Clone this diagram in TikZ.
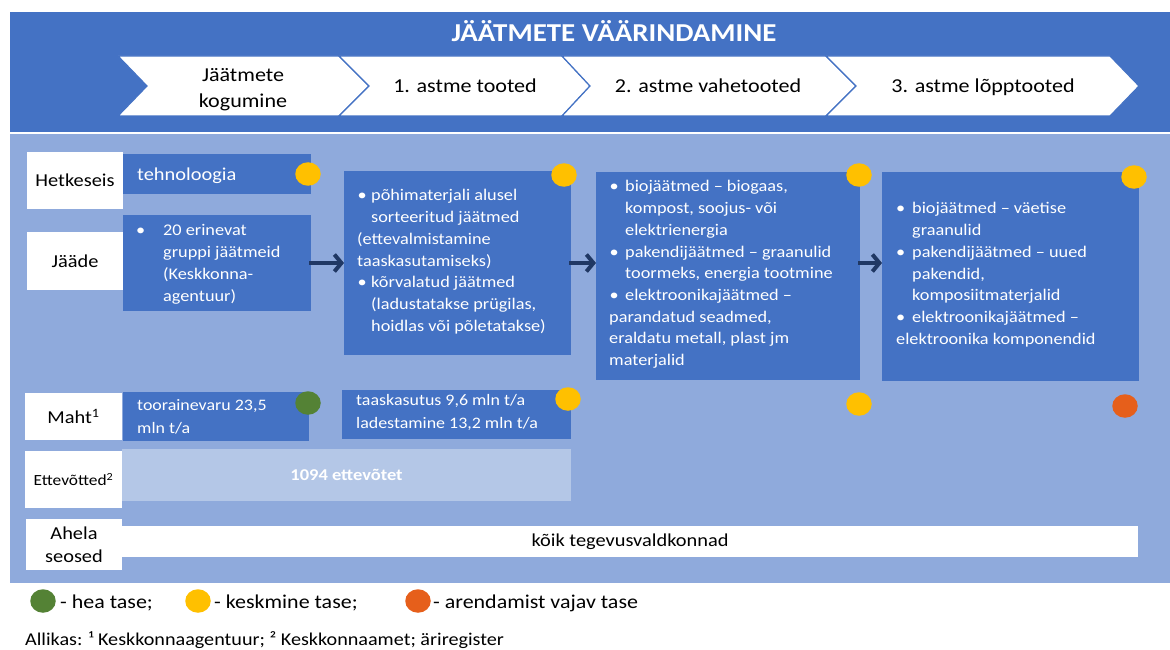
\documentclass[tikz,border=0pt]{standalone}
\usepackage{fontspec}
\setmainfont{Carlito}[FakeStretch=1.12]
\usetikzlibrary{arrows.meta,shapes.geometric}
\definecolor{hdrblue}{HTML}{4472C4}
\definecolor{bodyblue}{HTML}{8FAADC}
\definecolor{paleblue}{HTML}{B4C7E7}
\definecolor{navy}{HTML}{203864}
\definecolor{lvlgood}{HTML}{548235}
\definecolor{lvlmid}{HTML}{FFC000}
\definecolor{lvlbad}{HTML}{E65F1B}
\newcommand{\fsz}[2]{\fontsize{#1}{#2}\selectfont}
% bullet placed at an offset, text starting at a fixed indent
\newcommand{\bul}[2]{\makebox[#2][l]{\hspace*{#1}•}}

\begin{document}
\begin{tikzpicture}[x=1pt,y=-1pt,
  area/.style={anchor=north west,inner sep=0pt,outer sep=0pt},
  labelbox/.style={area,fill=white,font=\fsz{18.2}{23},align=center,text=black},
  bluebox/.style={area,fill=hdrblue},
  chev/.style={fill=white,draw=hdrblue,line width=1.2pt,line join=miter},
  chevtext/.style={inner sep=0pt,font=\fsz{19.7}{26},align=center,text=black},
  boxtext/.style={anchor=north west,inner sep=0pt,align=left,text=white,font=\fsz{16.3}{21.7}},
  valtext/.style={anchor=north west,inner sep=0pt,align=left,text=white,font=\fsz{16}{22.5}},
  dot/.style={ellipse,minimum width=25.5pt,minimum height=23.5pt,inner sep=0pt},
  legtext/.style={anchor=base west,inner sep=0pt,font=\fsz{19.6}{24},text=black},
  flow/.style={navy,line width=4pt,shorten <=-2pt,-{Straight Barb[length=7pt,width=17pt]}},
]
\useasboundingbox (0,0) rectangle (1170,650);
\fill[white] (0,0) rectangle (1170,650);

% header band and body panel
\node[area,fill=hdrblue,minimum width=1160pt,minimum height=120pt] (header) at (10,12) {};
\node[area,fill=bodyblue,minimum width=1160pt,minimum height=449pt] (body) at (10,134) {};
\node[anchor=base,inner sep=0pt,text=white,font=\bfseries\fsz{25.8}{30}] (title) at (614,41.5) {JÄÄTMETE VÄÄRINDAMINE};

% stage chevrons
\draw[chev] (118,56) -- (339,56) -- (369,86) -- (339,116) -- (118,116) -- (147,86) -- cycle;
\draw[chev] (339,56) -- (562,56) -- (590,86) -- (562,116) -- (339,116) -- (369,86) -- cycle;
\draw[chev] (562,56) -- (826,56) -- (856,86) -- (826,116) -- (562,116) -- (590,86) -- cycle;
\draw[chev] (826,56) -- (1110,56) -- (1139,86) -- (1110,116) -- (826,116) -- (856,86) -- cycle;
\node[chevtext,anchor=north] (s1) at (243,62.8) {\strut Jäätmete\\kogumine};
\node[chevtext,anchor=base] (s2) at (465,93) {1. astme tooted};
\node[chevtext,anchor=base] (s3) at (708,93) {2. astme vahetooted};
\node[chevtext,anchor=base] (s4) at (983,93) {3. astme lõpptooted};

% row labels
\node[labelbox,minimum width=96pt,minimum height=57pt] (lnow) at (27,152) {Hetkeseis};
\node[labelbox,minimum width=96pt,minimum height=58pt] (lres) at (27,232) {Jääde};
\node[labelbox,minimum width=97pt,minimum height=47pt] (lvol) at (25,393) {Maht\textsuperscript{1}};
\node[labelbox,minimum width=97pt,minimum height=57pt,font=\fsz{15.5}{19}] (lcomp) at (25,451) {Ettevõtted\textsuperscript{2}};
\node[labelbox,minimum width=96pt,minimum height=51pt] (lchain) at (26,519) {Ahela\\seosed};

% content boxes
\node[bluebox,minimum width=188pt,minimum height=40pt] (tech) at (123,154) {};
\node[bluebox,minimum width=188pt,minimum height=96pt] (b1) at (123,215) {};
\node[bluebox,minimum width=227pt,minimum height=184pt] (b2) at (344,171) {};
\node[bluebox,minimum width=264pt,minimum height=208pt] (b3) at (596,172) {};
\node[bluebox,minimum width=257pt,minimum height=209pt] (b4) at (882,172) {};
\node[bluebox,minimum width=186pt,minimum height=49pt] (m1) at (123,392) {};
\node[bluebox,minimum width=229pt,minimum height=49pt] (m2) at (342,390) {};
\node[area,fill=paleblue,minimum width=449pt,minimum height=52pt] (band) at (122,449) {};
\node[area,fill=white,minimum width=1016pt,minimum height=31pt] (chain) at (122,526) {};

\node[anchor=base west,inner sep=0pt,text=white,font=\fsz{18.2}{22}] (techtxt) at (137,180) {tehnoloogia};
\node[boxtext] (b1txt) at (136,220.6) {\strut\bul{0pt}{27pt}20 erinevat\\\hspace*{27pt}gruppi jäätmeid\\\hspace*{27pt}(Keskkonna-\\\hspace*{27pt}agentuur)};
\node[boxtext] (b2txt) at (357,185.6) {\strut\bul{0.5pt}{14pt}põhimaterjali alusel\\\hspace*{14pt}sorteeritud jäätmed\\(ettevalmistamine\\taaskasutamiseks)\\\bul{0.5pt}{14pt}kõrvalatud jäätmed\\\hspace*{14pt}(ladustatakse prügilas,\\\hspace*{14pt}hoidlas või põletatakse)};
\node[boxtext] (b3txt) at (609,176.6) {\strut\bul{0.5pt}{16pt}biojäätmed – biogaas,\\\hspace*{16pt}kompost, soojus- või\\\hspace*{16pt}elektrienergia\\\bul{0.5pt}{16pt}pakendijäätmed – graanulid\\\hspace*{16pt}toormeks, energia tootmine\\\bul{0.5pt}{16pt}elektroonikajäätmed –\\parandatud seadmed,\\eraldatu metall, plast jm\\materjalid};
\node[boxtext] (b4txt) at (896,198.6) {\strut\bul{0pt}{16pt}biojäätmed – väetise\\\hspace*{16pt}graanulid\\\bul{0pt}{16pt}pakendijäätmed – uued\\\hspace*{16pt}pakendid,\\\hspace*{16pt}komposiitmaterjalid\\\bul{0pt}{16pt}elektroonikajäätmed –\\elektroonika komponendid};
\node[valtext] (m1txt) at (137,395) {\strut toorainevaru 23,5\\mln t/a};
\node[valtext] (m2txt) at (356,390) {\strut taaskasutus 9,6 mln t/a\\ladestamine 13,2 mln t/a};
\node[inner sep=0pt,text=white,font=\bfseries\fsz{16.5}{20}] (bandtxt) at (band.center) {1094 ettevõtet};
\node[inner sep=0pt,text=black,font=\fsz{18.2}{22}] (chaintxt) at (chain.center) {kõik tegevusvaldkonnad};

% flow arrows
\draw[flow] (b1.east) -- (b2.west);
\draw[flow] (b2.east) -- (b2.east -| b3.west);
\draw[flow] (b3.east |- b2.east) -- (b2.east -| b4.west);

% level markers
\node[dot,fill=lvlmid] (d1) at (308,174) {};
\node[dot,fill=lvlmid] (d2) at (564,175) {};
\node[dot,fill=lvlmid] (d3) at (859,175) {};
\node[dot,fill=lvlmid] (d4) at (1134,177) {};
\node[dot,fill=lvlgood] (d5) at (308,403) {};
\node[dot,fill=lvlmid] (d6) at (568,399) {};
\node[dot,fill=lvlmid] (d7) at (859,404) {};
\node[dot,fill=lvlbad] (d8) at (1125,406) {};

% legend and source line
\node[dot,fill=lvlgood] (k1) at (43,601) {};
\node[legtext] (k1t) at (60,608) {- hea tase;};
\node[dot,fill=lvlmid] (k2) at (198,601) {};
\node[legtext] (k2t) at (214,608) {- keskmine tase;};
\node[dot,fill=lvlbad] (k3) at (418,601) {};
\node[legtext] (k3t) at (433,608) {- arendamist vajav tase};
\node[anchor=base west,inner sep=0pt,font=\fsz{18}{21},text=black] (src) at (25,645) {Allikas: ¹ Keskkonnaagentuur; ² Keskkonnaamet; äriregister};
\end{tikzpicture}
\end{document}
